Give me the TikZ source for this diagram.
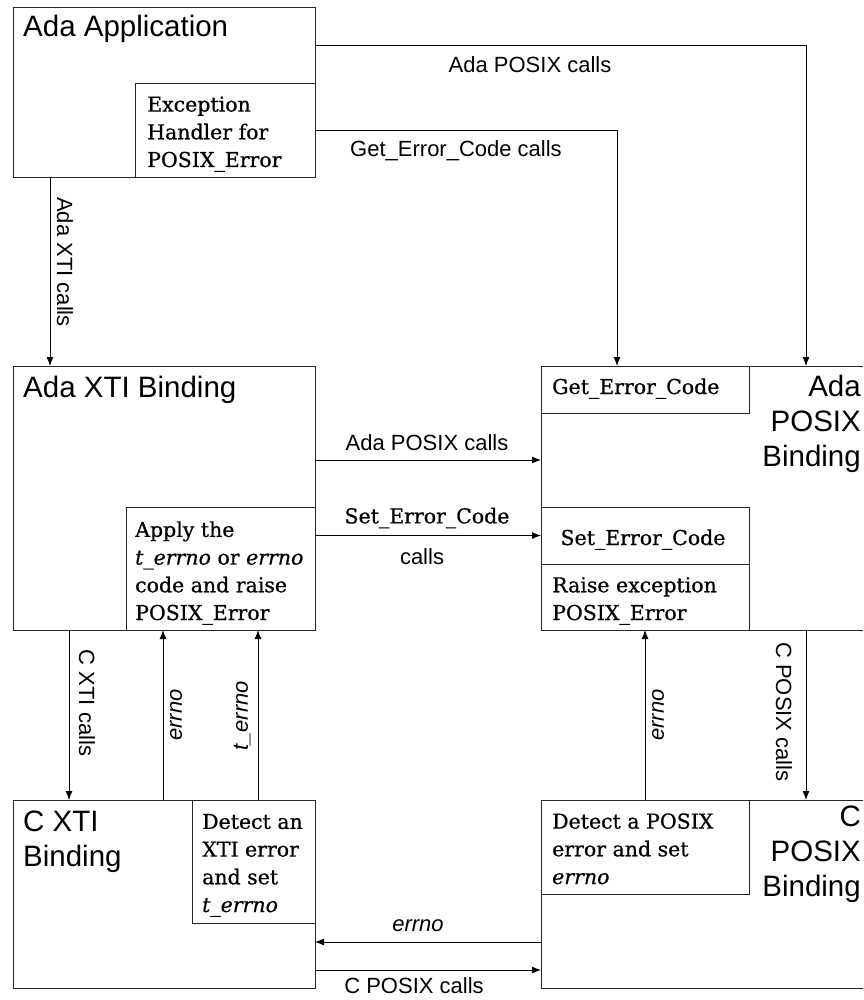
\documentclass[tikz,border=0pt]{standalone}
\usepackage{fontspec}
\setmainfont[FakeBold=0.6]{DejaVu Serif}
\setsansfont{Liberation Sans}
\usetikzlibrary{arrows.meta}
\tikzset{
  unitbox/.style={draw=black!85, line width=0.9pt, anchor=north west, inner sep=0pt, outer sep=0pt},
  titletext/.style={font=\sffamily\fontsize{29.5}{35}\selectfont, inner sep=0pt},
  calltext/.style={font=\sffamily\fontsize{22}{26}\selectfont, inner sep=0pt},
  codetext/.style={font=\sffamily\itshape\fontsize{22}{26}\selectfont, inner sep=0pt},
  steptext/.style={font=\fontsize{20.5}{27.7}\selectfont, inner sep=0pt, align=left, anchor=base west},
  callarrow/.style={-{Latex[length=9pt,width=7pt]}, line width=0.9pt}
}
\begin{document}
\begin{tikzpicture}[x=1pt, y=-1pt]
  \clip (0,0) rectangle (863,1000);
  % upper units
  \node[unitbox, minimum width=302pt, minimum height=170pt] (adaapp) at (13,7) {};
  \node[unitbox, minimum width=180pt, minimum height=94pt] (handler) at (135,83) {};
  \node[unitbox, minimum width=302pt, minimum height=264pt] (adaxti) at (13,366) {};
  \node[unitbox, minimum width=189pt, minimum height=123pt] (apply) at (126,507) {};
  \node[unitbox, minimum width=400pt, minimum height=264pt] (adaposix) at (541,366) {};
  \node[unitbox, minimum width=208pt, minimum height=47pt] (geterr) at (541,366) {};
  \node[unitbox, minimum width=208pt, minimum height=57pt] (seterr) at (541,507) {};
  \node[unitbox, minimum width=208pt, minimum height=66pt] (raise) at (541,564) {};
  % lower units
  \node[unitbox, minimum width=302pt, minimum height=188pt] (cxti) at (13,800) {};
  \node[unitbox, minimum width=123pt, minimum height=123pt] (detxti) at (192,800) {};
  \node[unitbox, minimum width=400pt, minimum height=188pt] (cposix) at (541,800) {};
  \node[unitbox, minimum width=208pt, minimum height=94pt] (detposix) at (541,800) {};

  % titles (multi-line nodes sit on their last baseline)
  \node[titletext, anchor=base west] (adaapptitle) at (23,37) {Ada Application};
  \node[titletext, anchor=base west] (adaxtititle) at (23,397) {Ada XTI Binding};
  \node[titletext, anchor=base west, align=left] (cxtititle) at (23,866) {C XTI\\Binding};
  \node[titletext, anchor=base east, align=right] (adaposixtitle) at (861,466) {Ada\\POSIX\\Binding};
  \node[titletext, anchor=base east, align=right] (cposixtitle) at (861,896) {C\\POSIX\\Binding};

  % inner texts
  \node[steptext] (handlertext) at (147,167) {Exception\\Handler for\\POSIX\_Error};
  \node[steptext] (applytext) at (135,620) {Apply the\\\textit{t\_errno} or \textit{errno}\\code and raise\\POSIX\_Error};
  \node[steptext] (gettext) at (552,394) {Get\_Error\_Code};
  \node[steptext, anchor=base] (settext) at (643,545) {Set\_Error\_Code};
  \node[steptext] (raisetext) at (552,620) {Raise exception\\POSIX\_Error};
  \node[steptext] (detxtitext) at (202,912) {Detect an\\XTI error\\and set\\\textit{t\_errno}};
  \node[steptext] (detposixtext) at (552,884) {Detect a POSIX\\error and set\\\textit{errno}};

  % calls between units
  \draw[callarrow] ([yshift=-38pt]adaapp.north east) -| ([xshift=265pt]adaposix.north west);
  \draw[callarrow] ([yshift=-47pt]handler.north east) -| ([xshift=76pt]geterr.north west);
  \draw[callarrow] ([xshift=37pt]adaapp.south west) -- ([xshift=37pt]adaxti.north west);
  \draw[callarrow] ([yshift=38pt]adaxti.east) -- ([yshift=38pt]adaposix.west);
  \draw[callarrow] (seterr.west -| apply.east) -- (seterr.west);
  \draw[callarrow] ([xshift=56pt]adaxti.south west) -- ([xshift=56pt]cxti.north west);
  \draw[callarrow] ([xshift=150pt]cxti.north west) -- ([xshift=37pt]apply.south west);
  \draw[callarrow] ([xshift=66pt]detxti.north west) -- ([xshift=132pt]apply.south west);
  \draw[callarrow] (detposix.north) -- (raise.south);
  \draw[callarrow] ([xshift=265pt]adaposix.south west) -- ([xshift=265pt]cposix.north west);
  \draw[callarrow] ([yshift=-48pt]cposix.west) -- ([yshift=-48pt]cxti.east);
  \draw[callarrow] ([yshift=-76pt]cxti.east) -- ([yshift=-76pt]cposix.west);

  % call labels
  \node[calltext] (toplabel) at (530,65) {Ada POSIX calls};
  \node[calltext] (getlabel) at (456,151) {Get\_Error\_Code calls};
  \node[calltext, rotate=-90] (xtilabel) at (65,262) {Ada XTI calls};
  \node[calltext] (midlabel) at (427,443) {Ada POSIX calls};
  \node[steptext, anchor=center] (setlabel) at (427,518) {Set\_Error\_Code};
  \node[calltext] (setcalls) at (422,557) {calls};
  \node[calltext, rotate=-90] (cxtilabel) at (87,703) {C XTI calls};
  \node[codetext, rotate=90] (errnoleft) at (176,715) {errno};
  \node[codetext, rotate=90] (terrnolabel) at (242,716) {t\_errno};
  \node[codetext, rotate=90] (errnoright) at (658,715) {errno};
  \node[calltext, rotate=-90] (cposixlabel) at (784,712) {C POSIX calls};
  \node[codetext] (errnobottom) at (418,926) {errno};
  \node[calltext] (bottomlabel) at (414,986) {C POSIX calls};
\end{tikzpicture}
\end{document}
